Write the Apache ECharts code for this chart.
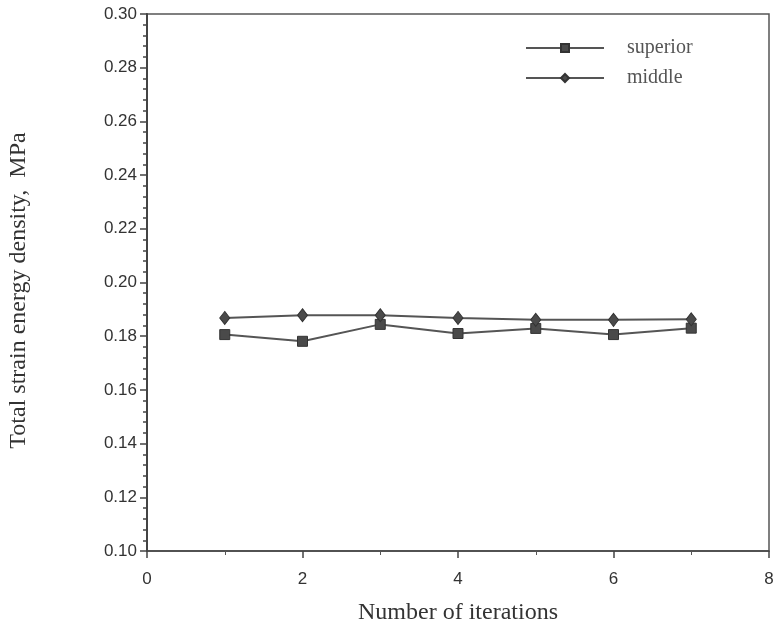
<!DOCTYPE html>
<html>
<head>
<meta charset="utf-8">
<script src="https://cdn.jsdelivr.net/npm/echarts@6/dist/echarts.min.js"></script>
<style>
  html, body { margin: 0; padding: 0; background: #fff; }
  #chart { width: 774px; height: 630px; }
</style>
</head>
<body>
<div id="chart"></div>
<script>
// Iteration numbers and strain energy density per layer
const iterations = [1, 2, 3, 4, 5, 6, 7];
const superior = [0.1806, 0.1781, 0.1844, 0.1810, 0.1829, 0.1806, 0.1830];
const middle   = [0.1868, 0.1878, 0.1878, 0.1868, 0.1861, 0.1861, 0.1863];
const xTicks = [0, 2, 4, 6, 8];
const yTicks = [0.10, 0.12, 0.14, 0.16, 0.18, 0.20, 0.22, 0.24, 0.26, 0.28, 0.30];

const pairs = (xs, ys) => xs.map((x, i) => [x, ys[i]]);

const chart = echarts.init(document.getElementById('chart'), null, { renderer: 'canvas' });
chart.setOption({
  animation: false,
  backgroundColor: '#ffffff',
  grid: {
    left: 147, right: 5, top: 14, bottom: 79,
    containLabel: false, outerBoundsMode: 'none',
    show: true, borderColor: '#555', borderWidth: 1.5, backgroundColor: 'transparent'
  },
  legend: {
    orient: 'vertical',
    left: 520, top: 33,
    itemWidth: 78, itemHeight: 10, itemGap: 10,
    textStyle: { fontFamily: 'Liberation Serif', fontSize: 20, color: '#555', padding: [0, 0, 0, 18] },
    data: ['superior', 'middle']
  },
  xAxis: {
    type: 'value', min: 0, max: 8, interval: 2,
    name: 'Number of iterations', nameLocation: 'middle', nameGap: 50,
    nameTextStyle: { fontFamily: 'Liberation Serif', fontSize: 24, color: '#333' },
    axisLine: { show: true, onZero: false, lineStyle: { color: '#444', width: 1.5 } },
    axisTick: { show: true, length: 7, lineStyle: { color: '#444', width: 1.5 } },
    minorTick: { show: true, splitNumber: 2, length: 4, lineStyle: { color: '#555' } },
    axisLabel: {
      fontFamily: 'Liberation Sans', fontSize: 17, color: '#333', margin: 20,
      customValues: xTicks, formatter: v => String(v)
    },
    splitLine: { show: false }
  },
  yAxis: {
    type: 'value', min: 0.10, max: 0.30, interval: 0.02,
    name: 'Total strain energy density,  MPa', nameLocation: 'middle', nameGap: 116,
    nameTextStyle: { fontFamily: 'Liberation Serif', fontSize: 24, color: '#333', padding: [0, 16, 0, 0] },
    axisLine: { show: true, lineStyle: { color: '#444', width: 2 } },
    axisTick: { show: true, length: 7, lineStyle: { color: '#444', width: 1.5 } },
    minorTick: { show: true, splitNumber: 5, length: 4, lineStyle: { color: '#444', width: 1.5 } },
    axisLabel: {
      fontFamily: 'Liberation Sans', fontSize: 17, color: '#333', margin: 10,
      customValues: yTicks, formatter: v => v.toFixed(2)
    },
    splitLine: { show: false }
  },
  series: [
    {
      name: 'superior', type: 'line', data: pairs(iterations, superior),
      symbol: 'rect', symbolSize: 10,
      lineStyle: { color: '#555', width: 2 },
      itemStyle: { color: '#4a4a4a', borderColor: '#333', borderWidth: 1 }
    },
    {
      name: 'middle', type: 'line', data: pairs(iterations, middle),
      symbol: 'diamond', symbolSize: [10, 13],
      lineStyle: { color: '#555', width: 2 },
      itemStyle: { color: '#4a4a4a', borderColor: '#333', borderWidth: 1 }
    }
  ]
});
</script>
</body>
</html>
